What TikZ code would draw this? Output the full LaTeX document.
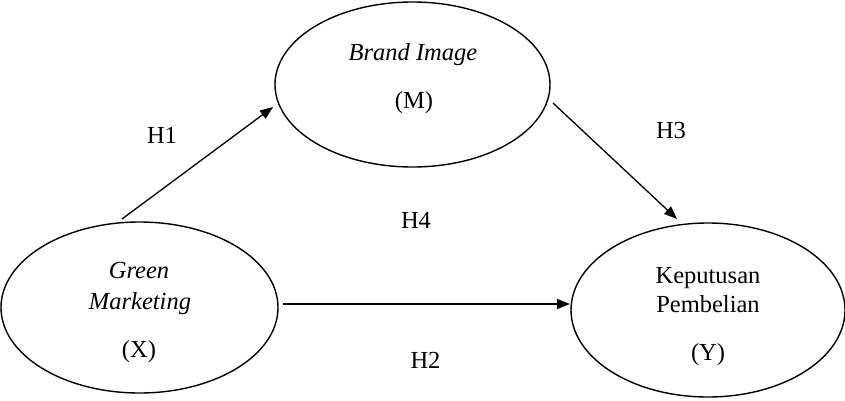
\documentclass[tikz,border=0pt]{standalone}
\usepackage{fontspec}
\setmainfont{Liberation Serif}
\usetikzlibrary{shapes.geometric,arrows.meta,calc}
\begin{document}
\begin{tikzpicture}[x=1pt,y=-1pt,
  oval/.style={draw, ellipse, line width=1.4pt, inner sep=0pt, outer sep=0pt},
  lbl/.style={anchor=base, inner sep=0pt, font=\fontsize{24.5}{29}\selectfont},
  arr/.style={line width=1.3pt, -{Triangle[length=13pt,width=10pt]}}]
\useasboundingbox (0,0) rectangle (845,400);
% ellipses
\node[oval, minimum width=275pt, minimum height=165pt] (brand) at (412.5,84.5) {};
\node[oval, minimum width=277pt, minimum height=171pt] (green) at (139.5,307.5) {};
\node[oval, minimum width=274pt, minimum height=174pt] (kep) at (708,310) {};
% texts
\node[lbl] (t1) at (413,60) {\itshape Brand Image};
\node[lbl] (t2) at (414,108) {(M)};
\node[lbl] (t3) at (139,278) {\itshape Green};
\node[lbl] (t4) at (140,309) {\itshape Marketing};
\node[lbl] (t5) at (139,357) {(X)};
\node[lbl] (t6) at (708,283) {Keputusan};
\node[lbl] (t7) at (708,312) {Pembelian};
\node[lbl] (t8) at (708,360) {(Y)};
\node[lbl] (h1) at (162,143) {H1};
\node[lbl] (h3) at (671,138) {H3};
\node[lbl] (h4) at (416,228) {H4};
\node[lbl] (h2) at (425.5,368) {H2};
% arrows
\draw[arr] ($(green.north)+(-17.5,-3)$) -- ($(brand.west)+(-2,22.5)$);
\draw[arr] ($(brand.east)+(3,18.5)$) -- ($(kep.north)+(-31,-4)$);
\draw[arr] ($(green.east)+(5,-3.5)$) -- ($(kep.west)+(-1,-6)$);
\end{tikzpicture}
\end{document}
